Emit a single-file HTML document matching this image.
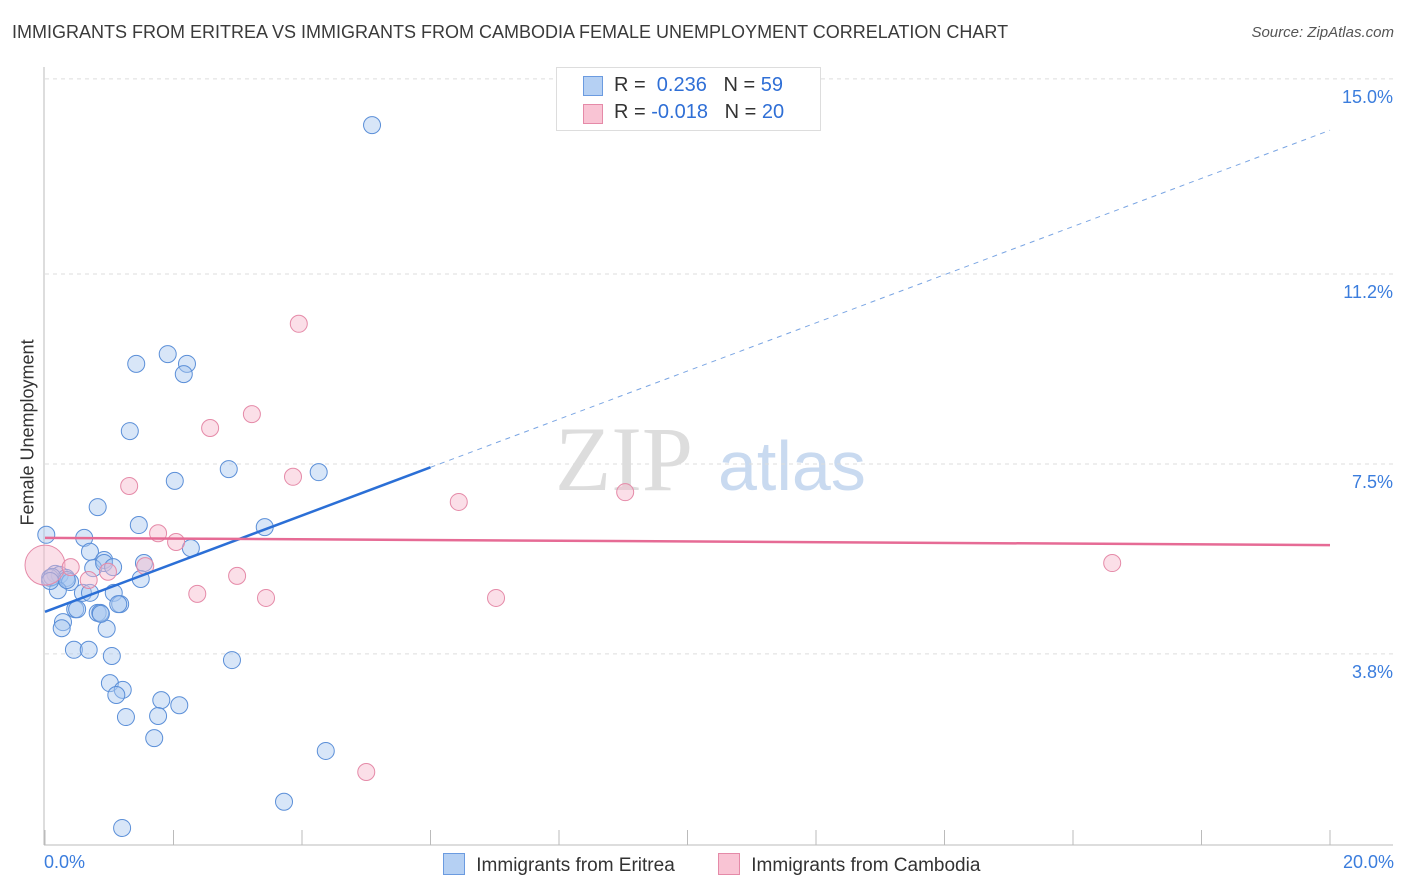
<!DOCTYPE html>
<html><head><meta charset="utf-8"><style>
body{margin:0;background:#fff;font-family:"Liberation Sans",sans-serif;}
#wrap{position:relative;width:1406px;height:892px;overflow:hidden}
.t{position:absolute;white-space:nowrap}
</style></head><body><div id="wrap">
<div class="t" style="left:12px;top:22px;font-size:18px;color:#3a3a3a">IMMIGRANTS FROM ERITREA VS IMMIGRANTS FROM CAMBODIA FEMALE UNEMPLOYMENT CORRELATION CHART</div>
<div class="t" style="right:12px;top:24px;font-size:15px;color:#555;font-style:italic">Source: ZipAtlas.com</div>
<svg id="svg" width="1406" height="892" style="position:absolute;left:0;top:0"></svg>
</div>
<script>
const blueX=[5.09,1.91,1.42,2.21,2.16,1.32,2.86,2.02,4.26,0.82,1.46,3.42,0.61,0.02,2.27,0.70,0.92,1.54,0.75,0.92,1.06,0.16,0.23,0.33,0.39,0.08,1.49,0.20,0.59,0.70,1.07,1.17,1.14,0.47,0.50,0.82,0.86,0.28,0.26,0.96,0.45,0.68,1.04,2.91,1.01,1.21,1.11,1.81,2.09,1.26,1.76,1.70,4.37,3.72,1.20,0.11,0.34,0.87,0.08];
const blueY=[14.10,9.64,9.45,9.45,9.25,8.14,7.40,7.17,7.34,6.66,6.31,6.27,6.06,6.12,5.86,5.79,5.63,5.57,5.47,5.57,5.49,5.36,5.34,5.28,5.20,5.28,5.26,5.04,4.99,4.99,4.99,4.77,4.77,4.67,4.67,4.60,4.60,4.42,4.30,4.29,3.88,3.88,3.76,3.68,3.23,3.10,3.00,2.90,2.80,2.57,2.59,2.16,1.91,0.92,0.41,5.30,5.24,4.58,5.22];
const pinkX=[0.0,3.95,3.22,2.57,1.31,3.86,6.44,9.03,1.76,2.04,0.40,0.68,0.98,1.56,2.99,2.37,3.44,7.02,16.61,5.00];
const pinkY=[5.53,10.23,8.47,8.20,7.07,7.25,6.76,6.95,6.15,5.98,5.49,5.24,5.40,5.51,5.32,4.97,4.89,4.89,5.57,1.50];
const blueTrend=[4.62,14.0];
const pinkTrend=[6.06,5.92];
const yTicks=[15.0,11.2,7.5,3.8];
const yTickLabels=["15.0%","11.2%","7.5%","3.8%"];
const NS="http://www.w3.org/2000/svg";
const svg=document.getElementById('svg');
const X=v=>45+v/20*1285;
const Y=v=>849-v*51.34;
function mk(tag,at){const e=document.createElementNS(NS,tag);for(const k in at)e.setAttribute(k,at[k]);svg.appendChild(e);return e;}
// watermark
let w=mk('text',{x:555,y:490,'font-size':92,'font-family':'Liberation Serif',fill:'#ddd'});w.textContent='ZIP';


let w2=mk('text',{x:718,y:490,'font-size':70,'font-family':'Liberation Sans',fill:'#c9daf0'});w2.textContent='atlas';


// grid
yTicks.forEach((v,i)=>{
 const g=mk('line',{x1:45,x2:1393,y1:Y(v),y2:Y(v),stroke:'#ddd','stroke-dasharray':'4,4'});
 
 
 const t=mk('text',{x:1393,y:Y(v)+24,'text-anchor':'end','font-size':18,fill:'#3b7ddd'});t.textContent=yTickLabels[i];
 
 
});
let a=mk('line',{x1:44,x2:44,y1:67,y2:845,stroke:'#bbb'});


let b=mk('line',{x1:44,x2:1393,y1:845,y2:845,stroke:'#bbb'});


for(let v=0;v<=20;v+=2){const tk=mk('line',{x1:X(v),x2:X(v),y1:830,y2:845,stroke:'#bbb'});
 
 }
function dot(x,y,r,c,s,n){const e=mk('circle',{cx:X(x),cy:Y(y),r:r,fill:c,'fill-opacity':0.45,stroke:s,'stroke-width':1});
 
 }
blueX.forEach((x,i)=>dot(x,blueY[i],8.5,'#a9c8f0','#5b8fd8','eritrea-point'));
pinkX.forEach((x,i)=>dot(x,pinkY[i],i==0?20:8.5,'#f7b8cb','#e58aa8','cambodia-point'));
// trends
const bx=6.0;const by=blueTrend[0]+(blueTrend[1]-blueTrend[0])*bx/20;
let l1=mk('line',{x1:X(0),y1:Y(blueTrend[0]),x2:X(bx),y2:Y(by),stroke:'#2b6fd6','stroke-width':2.5});


let l2=mk('line',{x1:X(bx),y1:Y(by),x2:X(20),y2:Y(blueTrend[1]),stroke:'#7aa5e3','stroke-width':1,'stroke-dasharray':'5,5'});


let l3=mk('line',{x1:X(0),y1:Y(pinkTrend[0]),x2:X(20),y2:Y(pinkTrend[1]),stroke:'#e66b95','stroke-width':2.5});


</script>
<div class="t" style="left:44px;top:852px;font-size:18px;color:#3b7ddd">0.0%</div>
<div class="t" style="right:12px;top:852px;font-size:18px;color:#3b7ddd">20.0%</div>
<div class="t" style="left:-42px;top:445px;font-size:18px;color:#333;transform:rotate(-90deg);transform-origin:center;width:140px;text-align:center">Female Unemployment</div>
<div style="position:absolute;left:556px;top:67px;width:263px;height:62px;border:1px solid #ddd;background:#fff;font-size:20px;color:#333">
 <div style="position:absolute;left:26px;top:8px;width:18px;height:18px;background:#b5d0f3;border:1px solid #6b9be0"></div>
 <div class="t" style="left:57px;top:6px">R = &nbsp;<span style="color:#2f6fd6">0.236</span>&nbsp;&nbsp;&nbsp;N = <span style="color:#2f6fd6">59</span></div>
 <div style="position:absolute;left:26px;top:36px;width:18px;height:18px;background:#f9c4d4;border:1px solid #e58aa8"></div>
 <div class="t" style="left:57px;top:33px">R = <span style="color:#2f6fd6">-0.018</span>&nbsp;&nbsp;&nbsp;N = <span style="color:#2f6fd6">20</span></div>
</div>
<div style="position:absolute;left:443px;top:853px;font-size:19px;color:#333">
 <span style="display:inline-block;width:20px;height:20px;background:#b5d0f3;border:1px solid #6b9be0;vertical-align:-4px"></span> <span style="margin-left:6px">Immigrants from Eritrea</span></div>
<div style="position:absolute;left:718px;top:853px;font-size:19px;color:#333">
 <span style="display:inline-block;width:20px;height:20px;background:#f9c4d4;border:1px solid #e58aa8;vertical-align:-4px"></span> <span style="margin-left:6px">Immigrants from Cambodia</span></div>
</body></html>
